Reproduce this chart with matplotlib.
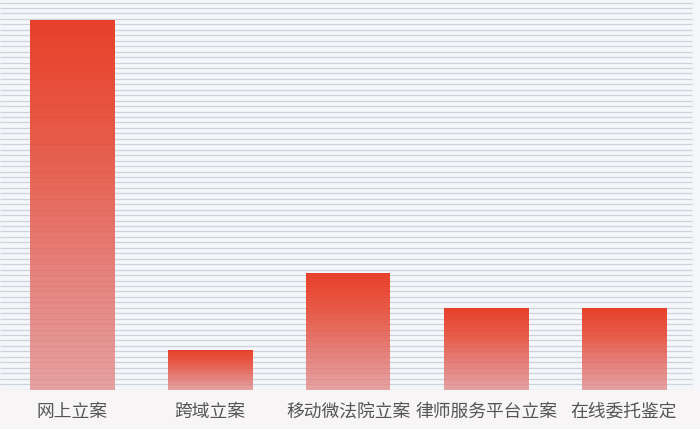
import numpy as np
import matplotlib
matplotlib.use("Agg")
import matplotlib.pyplot as plt
from matplotlib.colors import LinearSegmentedColormap

plt.rcParams['font.family'] = ['Noto Sans CJK SC', 'DejaVu Sans']

categories = ['网上立案', '跨域立案', '移动微法院立案', '律师服务平台立案', '在线委托鉴定']
values = [370, 40, 117, 82, 82]

W, H = 700, 429
fig = plt.figure(figsize=(W / 100, H / 100), dpi=100)
fig.patch.set_facecolor('#f7f5f5')

# axes: baseline at 390px from top
base_px = 390
ax = fig.add_axes([0, (H - base_px) / H, 1, base_px / H])
ax.set_facecolor('#f4f6f9')
spacing = 138.0
first = 72.0
ax.set_xlim(-first / spacing, (W - first) / spacing)
ax.set_ylim(0, base_px)

# background stripes
xr = ax.get_xlim()
x_end = xr[0] + 692 / spacing
for y in np.arange(0.5, base_px - 2, 5.45):
    ax.plot([xr[0], x_end], [y, y], color='#cdd3dc', lw=0.9, zorder=1,
            solid_capstyle='butt')

cmap = LinearSegmentedColormap.from_list(
    'bar', ['#e5a2a2', '#e6807a', '#e85c49', '#e9402a'])
width = 84 / spacing
x = np.arange(len(categories))
bars = ax.bar(x, values, width=width, color='none', zorder=2)
grad = np.linspace(0, 1, 256).reshape(-1, 1)
for b in bars:
    x0, y0 = b.get_x(), b.get_y()
    w, h = b.get_width(), b.get_height()
    ax.imshow(grad, extent=[x0, x0 + w, y0, y0 + h], origin='lower',
              cmap=cmap, aspect='auto', zorder=2, interpolation='bicubic')
    # faint stripes through bars
    for y in np.arange(0.5, h, 5.45):
        ax.plot([x0, x0 + w], [y, y], color='#b05050', lw=0.6, alpha=0.12,
                zorder=3, solid_capstyle='butt')

ax.set_xlim(-first / spacing, (W - first) / spacing)
ax.set_ylim(0, base_px)
ax.set_xticks(x)
ax.set_xticklabels(categories, fontsize=12.8, color='#555555')
ax.tick_params(axis='x', length=0, pad=9)
ax.set_yticks([])
for s in ax.spines.values():
    s.set_visible(False)

fig.savefig('out.png', dpi=100, facecolor=fig.get_facecolor())
